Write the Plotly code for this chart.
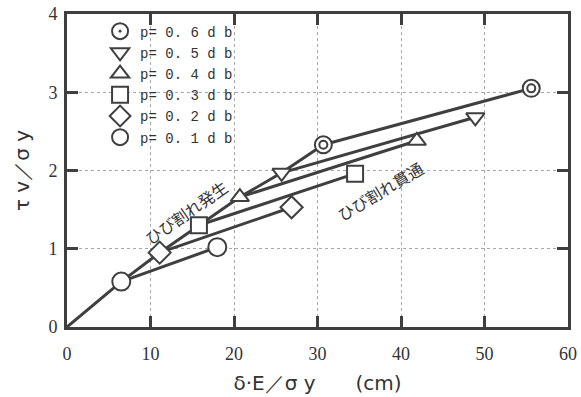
import plotly.graph_objects as go

# Reinforcement ratio labels (legend order top to bottom)
ratios = ["0.6", "0.5", "0.4", "0.3", "0.2", "0.1"]
# Point where cracking starts (ひび割れ発生)
crack_x = [30.7, 25.7, 20.7, 15.8, 11.1, 6.5]
crack_y = [2.33, 1.97, 1.66, 1.30, 0.95, 0.58]
# Point where the crack goes through (ひび割れ貫通)
through_x = [55.6, 48.9, 41.9, 34.5, 26.9, 18.0]
through_y = [3.05, 2.68, 2.38, 1.96, 1.53, 1.02]
# Common initial branch starts at the origin
origin_x = [0.0]
origin_y = [0.0]

symbols = ["circle-dot", "triangle-down", "triangle-up", "square", "diamond", "circle"]
sizes = [17, 16, 16, 16, 17, 18]

INK = "#3f3f3f"
fig = go.Figure()

# envelope through the cracking points
env_pairs = sorted(zip(crack_x, crack_y))
env_x = origin_x + [p[0] for p in env_pairs]
env_y = origin_y + [p[1] for p in env_pairs]
fig.add_trace(go.Scatter(x=env_x, y=env_y, mode="lines",
                         line=dict(color=INK, width=3), showlegend=False, hoverinfo="skip"))

# lines from cracking to through-crack for each ratio
for i, r in enumerate(ratios):
    fig.add_trace(go.Scatter(
        x=[crack_x[i], through_x[i]], y=[crack_y[i], through_y[i]],
        mode="lines", line=dict(color=INK, width=3),
        showlegend=False, hoverinfo="skip"))

# markers (with legend entries)
for i, r in enumerate(ratios):
    fig.add_trace(go.Scatter(
        x=[crack_x[i], through_x[i]], y=[crack_y[i], through_y[i]],
        mode="markers", name="p= 0. " + r[-1] + " d b",
        marker=dict(symbol=symbols[i], size=sizes[i], color="white",
                    line=dict(color=INK, width=2)),
    ))

# inner ring of the double circle (p = 0.6)
fig.add_trace(go.Scatter(
    x=[crack_x[0], through_x[0]], y=[crack_y[0], through_y[0]], mode="markers",
    marker=dict(symbol="circle", size=8, color="white", line=dict(color=INK, width=2)),
    showlegend=False, hoverinfo="skip"))

jp = "Noto Sans CJK JP"
fig.add_annotation(x=14.3, y=1.47, text="ひび割れ発生", showarrow=False, textangle=-35,
                   font=dict(family=jp, size=16, color="#333"))
fig.add_annotation(x=37.5, y=1.74, text="ひび割れ貫通", showarrow=False, textangle=-31,
                   font=dict(family=jp, size=16, color="#333"))

axis_common = dict(showline=True, linecolor=INK, linewidth=3, mirror="ticks",
                   ticks="inside", ticklen=11, tickwidth=2.5, tickcolor=INK,
                   showgrid=True, gridcolor="#a8a8a8", griddash="dot", gridwidth=1,
                   zeroline=False, automargin=False,
                   tickfont=dict(family="Liberation Serif", size=18, color="#333"))

fig.update_layout(
    width=581, height=397,
    margin=dict(l=67, r=13, t=14, b=70),
    paper_bgcolor="white", plot_bgcolor="white",
    xaxis=dict(range=[0, 60], dtick=10, ticklabelstandoff=8,
               title=dict(text="δ·E／σ y　　(cm)", standoff=14,
                          font=dict(family="DejaVu Sans", size=20, color="#333")),
               **axis_common),
    yaxis=dict(range=[0, 4], dtick=1, ticklabelstandoff=3,
               title=dict(text="τ v／σ y", standoff=14,
                          font=dict(family="DejaVu Sans", size=20, color="#333")),
               **axis_common),
    legend=dict(x=0.066, y=0.995, xanchor="left", yanchor="top",
                bgcolor="rgba(255,255,255,0)", borderwidth=0, tracegroupgap=0,
                font=dict(family="Liberation Mono", size=14, color="#333")),
)

# remove the default page margin so the figure fills the window exactly
fig.write_html("out.html", config={"displayModeBar": False},
               post_script="document.body.style.margin='0';")
